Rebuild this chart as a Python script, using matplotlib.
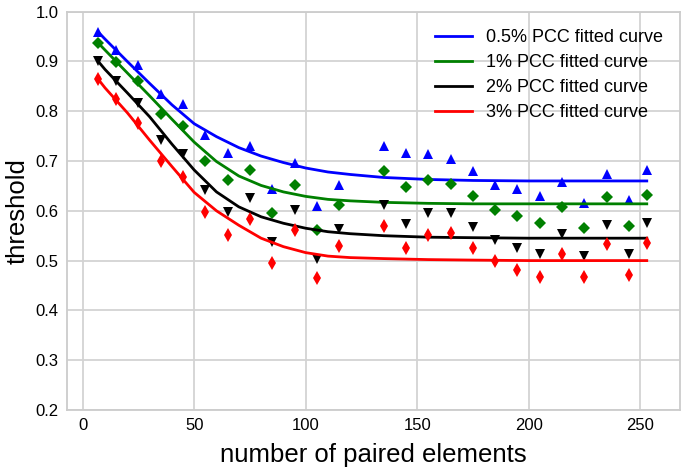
import numpy as np
from matplotlib import pyplot as plt

plt.rcParams['font.family'] = ['Liberation Sans', 'DejaVu Sans']

# measured points
n_elements = [7, 15, 25, 35, 45, 55, 65, 75, 85, 95, 105, 115,
              135, 145, 155, 165, 175, 185, 195, 205, 215, 225, 235, 245, 253]

pcc_05 = [0.960, 0.923, 0.893, 0.834, 0.815, 0.752, 0.716, 0.731, 0.643, 0.696, 0.610, 0.652,
          0.731, 0.716, 0.714, 0.704, 0.680, 0.652, 0.643, 0.630, 0.657, 0.615, 0.674, 0.622, 0.683]
pcc_1 = [0.937, 0.898, 0.861, 0.795, 0.770, 0.701, 0.661, 0.682, 0.595, 0.652, 0.562, 0.611,
         0.679, 0.647, 0.661, 0.654, 0.629, 0.602, 0.590, 0.575, 0.608, 0.565, 0.627, 0.569, 0.632]
pcc_2 = [0.900, 0.861, 0.816, 0.742, 0.714, 0.642, 0.598, 0.625, 0.537, 0.602, 0.503, 0.564,
         0.611, 0.574, 0.596, 0.596, 0.568, 0.542, 0.526, 0.513, 0.554, 0.509, 0.572, 0.513, 0.575]
pcc_3 = [0.864, 0.824, 0.777, 0.701, 0.667, 0.597, 0.552, 0.583, 0.495, 0.562, 0.465, 0.530,
         0.570, 0.525, 0.552, 0.555, 0.525, 0.499, 0.481, 0.468, 0.513, 0.468, 0.534, 0.471, 0.536]

# fitted curves
curve_x = [7, 10, 20, 30, 40, 50, 60, 70, 80, 90, 100, 110, 120, 135, 155, 175, 200, 225, 253]
curve_05 = [0.959, 0.945, 0.900, 0.856, 0.813, 0.775, 0.749, 0.727, 0.710, 0.697, 0.686, 0.678,
            0.673, 0.667, 0.663, 0.661, 0.660, 0.660, 0.660]
curve_1 = [0.937, 0.923, 0.877, 0.831, 0.784, 0.738, 0.699, 0.670, 0.651, 0.638, 0.629, 0.623,
           0.620, 0.617, 0.615, 0.614, 0.614, 0.614, 0.614]
curve_2 = [0.900, 0.884, 0.837, 0.789, 0.734, 0.682, 0.638, 0.608, 0.588, 0.575, 0.565, 0.558,
           0.554, 0.550, 0.547, 0.546, 0.545, 0.545, 0.545]
curve_3 = [0.864, 0.847, 0.797, 0.742, 0.689, 0.637, 0.600, 0.571, 0.545, 0.528, 0.516, 0.509,
           0.506, 0.504, 0.502, 0.501, 0.500, 0.500, 0.500]

labels = ['0.5% PCC fitted curve', '1% PCC fitted curve', '2% PCC fitted curve', '3% PCC fitted curve']
colors = ['blue', 'green', 'black', 'red']
markers = ['^', 'D', 'v', 'd']
msizes = [7, 6, 7, 7]

fig = plt.figure(figsize=(6.85, 4.69), dpi=100)
ax = fig.add_axes([0.098, 0.126, 0.895, 0.849])

points = [pcc_05, pcc_1, pcc_2, pcc_3]
curves = [curve_05, curve_1, curve_2, curve_3]
for i in range(4):
    ax.plot(n_elements, points[i], linestyle='none', marker=markers[i], color=colors[i],
            markersize=msizes[i], markeredgewidth=0)
    ax.plot(curve_x, curves[i], color=colors[i], linewidth=2, label=labels[i])

ax.set_xlim(-7, 268)
ax.set_ylim(0.2, 1.0)
ax.set_xticks([0, 50, 100, 150, 200, 250])
ax.set_yticks(np.arange(0.2, 1.01, 0.1))
ax.set_yticklabels(['0.2', '0.3', '0.4', '0.5', '0.6', '0.7', '0.8', '0.9', '1.0'])
ax.grid(True, color='#d3d3d3', linewidth=1.3)
ax.set_axisbelow(True)
for s in ax.spines.values():
    s.set_color('#cccccc')
    s.set_linewidth(1.3)
ax.tick_params(length=0, labelsize=12, pad=6)
ax.set_xlabel('number of paired elements', fontsize=18.5, labelpad=7)
ax.set_ylabel('threshold', fontsize=18.5, labelpad=4)
ax.legend(loc='upper right', frameon=False, fontsize=13, handlelength=2.0, labelspacing=0.45,
          borderaxespad=0.55)

plt.savefig('out.png')
